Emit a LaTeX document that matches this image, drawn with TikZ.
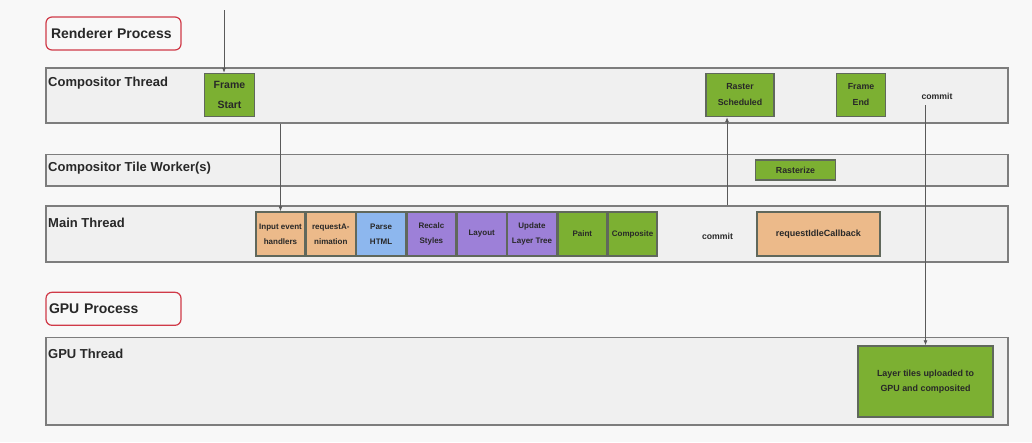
\documentclass[tikz,border=0pt]{standalone}
\usepackage{fontspec}
\setmainfont{Liberation Sans}
\usepackage{tikz}
\usetikzlibrary{arrows.meta}
\definecolor{FrameGreen}{RGB}{124,176,50}
\definecolor{FrameOrange}{RGB}{236,186,138}
\definecolor{FrameBlue}{RGB}{141,183,238}
\definecolor{FramePurple}{RGB}{157,128,216}
\definecolor{FrameEdge}{RGB}{96,104,92}
\definecolor{FrameRed}{RGB}{208,58,72}
\definecolor{FrameLane}{RGB}{240,240,240}
\definecolor{FrameLaneEdge}{RGB}{125,125,125}
\definecolor{FrameBack}{RGB}{248,248,248}
\definecolor{FrameText}{RGB}{40,40,40}
\definecolor{FrameWire}{RGB}{90,90,90}

\begin{document}
\begin{tikzpicture}[
    x=1pt,y=-1pt,
    lane/.style={draw=FrameLaneEdge, fill=FrameLane, line width=1.3pt, minimum width=962pt, inner sep=0pt},
    lanename/.style={anchor=west, inner sep=0pt, font=\fontsize{13}{15}\selectfont\bfseries, text=FrameText},
    proc/.style={rounded corners=6pt, draw=FrameRed, fill=FrameBack, line width=1.2pt, minimum width=135pt, minimum height=33pt, text width=125pt, inner xsep=5pt, align=left, font=\fontsize{14}{16}\selectfont\bfseries, text=FrameText},
    task/.style={draw=FrameEdge, line width=1.4pt, inner sep=0pt, align=center, text=FrameText, font=\fontsize{8}{15}\selectfont\bfseries},
    note/.style={inner sep=0pt, font=\fontsize{8.7}{10}\selectfont\bfseries, text=FrameText},
    arrow/.style={-{Latex[length=5pt,width=4pt]}, line width=0.8pt, draw=FrameWire}
  ]
    \fill[FrameBack] (0,0) rectangle (1032,442);
    \useasboundingbox (0,0) rectangle (1032,442);
    % renderer process
    \node[proc] (rend) at (113.5,33.5) {Renderer Process};
    \node[lane, minimum height=55pt] (comp) at (527,95.5) {};
    \node[lanename] (compname) at (48,83.5) {Compositor Thread};
    \node[lane, minimum height=31.5pt] (tile) at (527,170.3) {};
    \node[lanename] (tilename) at (48,168.5) {Compositor Tile Worker(s)};
    \node[lane, minimum height=56pt] (main) at (527,234) {};
    \node[lanename] (mainname) at (48,222.5) {Main Thread};
    \node[task, fill=FrameGreen, minimum width=50pt, minimum height=43pt, font=\fontsize{10.5}{20}\selectfont\bfseries] (fstart) at (229.5,95) {Frame\\Start};
    \node[task, fill=FrameGreen, minimum width=68pt, minimum height=43pt, font=\fontsize{8.8}{16}\selectfont\bfseries] (rsched) at (740,95) {Raster\\Scheduled};
    \node[task, fill=FrameGreen, minimum width=49pt, minimum height=43pt, font=\fontsize{8.8}{16}\selectfont\bfseries] (fend) at (861,95) {Frame\\End};
    \node[note] (ccommit) at (937,96) {commit};
    \node[task, fill=FrameGreen, minimum width=80pt, minimum height=20pt, font=\fontsize{8.8}{10}\selectfont\bfseries] (raster) at (795.5,170) {Rasterize};
    \foreach \x/\name/\col/\lab in {280.5/input/FrameOrange/{Input event\\handlers},330.8/raf/FrameOrange/{requestA-\\nimation},381.1/parse/FrameBlue/{Parse\\HTML},431.4/recalc/FramePurple/{Recalc\\Styles},481.7/layout/FramePurple/Layout,532/update/FramePurple/{Update\\Layer Tree},582.3/paint/FrameGreen/Paint,632.6/composite/FrameGreen/Composite} {
      \node[task, fill=\col, minimum width=49pt, minimum height=44pt] (\name) at (\x,234) {\lab};
    }
    \node[note] (mcommit) at (717.5,236) {commit};
    \node[task, fill=FrameOrange, minimum width=123pt, minimum height=44pt, font=\fontsize{9}{10}\selectfont\bfseries] (idle) at (818.3,234) {requestIdleCallback};
    % gpu process
    \node[proc, text width=129pt, inner xsep=3pt] (gpuproc) at (113.5,308.8) {GPU Process};
    \node[lane, minimum height=87.5pt] (gputh) at (527,381.3) {};
    \node[lanename] (gpuname) at (48,353.5) {GPU Thread};
    \node[task, fill=FrameGreen, minimum width=135pt, minimum height=71pt, font=\fontsize{8.9}{15}\selectfont\bfseries] (upload) at (925.5,381.5) {Layer tiles uploaded to\\GPU and composited};
    % arrows
    \coordinate (vsync) at (224,10);
    \coordinate (ctick) at (727,0);
    \coordinate (cdrop) at ([yshift=-6pt]ccommit.south);
    \draw[arrow] (vsync) -- (vsync |- fstart.north);
    \draw[arrow] (input.north |- comp.south) -- (input.north);
    \draw[arrow] (ctick |- main.north) -- (ctick |- rsched.south);
    \draw[arrow] (upload.north |- cdrop) -- (upload.north);
  \end{tikzpicture}
\end{document}
